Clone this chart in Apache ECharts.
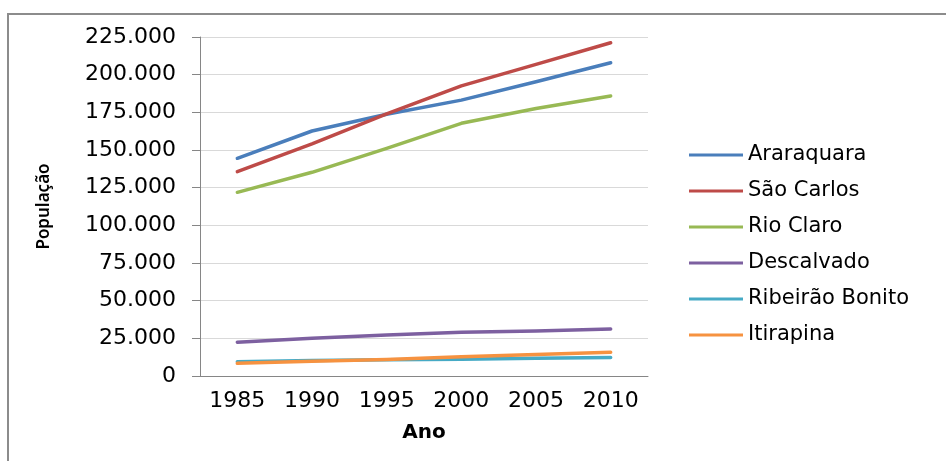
<!DOCTYPE html>
<html>
<head>
<meta charset="utf-8">
<script src="https://cdn.jsdelivr.net/npm/echarts@6/dist/echarts.min.js"></script>
<style>
  html, body { margin: 0; padding: 0; background: #fff; }
  #chart { width: 946px; height: 461px; }
</style>
</head>
<body>
<div id="chart"></div>
<script>
// Population of municipalities, 1985-2010
const years = ['1985', '1990', '1995', '2000', '2005', '2010'];
const araraquara = [144500, 162600, 173700, 183100, 195300, 207900];
const saoCarlos = [135600, 154000, 173900, 192600, 206800, 221200];
const rioClaro = [121900, 135200, 151100, 167700, 177600, 185800];
const descalvado = [22400, 25000, 27200, 29000, 29900, 31200];
const ribeiraoBonito = [9500, 10300, 10800, 11200, 11700, 12200];
const itirapina = [8400, 9800, 11000, 12800, 14300, 15700];

const seriesNames = ['Araraquara', 'São Carlos', 'Rio Claro', 'Descalvado', 'Ribeirão Bonito', 'Itirapina'];
const seriesData = [araraquara, saoCarlos, rioClaro, descalvado, ribeiraoBonito, itirapina];
const colors = ['#4A7EBB', '#BE4B48', '#98B954', '#7D60A0', '#46AAC5', '#F69240'];

const FONT = 'DejaVu Sans';

function fmt(v) {
  return v.toString().replace(/\B(?=(\d{3})+(?!\d))/g, '.');
}

const chart = echarts.init(document.getElementById('chart'), null, { renderer: 'canvas' });

chart.setOption({
  animation: false,
  backgroundColor: '#fff',
  color: colors,
  graphic: [{
    type: 'rect',
    shape: { x: 8, y: 14, width: 960, height: 480 },
    style: { fill: 'none', stroke: '#8c8c8c', lineWidth: 2 },
    silent: true
  }],
  grid: { left: 200, top: 37, width: 448, height: 339, containLabel: false },
  legend: {
    orient: 'vertical',
    left: 684,
    top: 139,
    icon: 'rect',
    itemWidth: 54,
    itemHeight: 3,
    itemGap: 14,
    textStyle: { fontFamily: FONT, fontSize: 21, color: '#000', lineHeight: 22 },
    data: seriesNames
  },
  xAxis: {
    type: 'category',
    data: years,
    boundaryGap: true,
    name: 'Ano',
    nameLocation: 'middle',
    nameGap: 47,
    nameTextStyle: { fontFamily: FONT, fontSize: 20, fontWeight: 'bold', color: '#000' },
    axisLine: { lineStyle: { color: '#868686', width: 1 } },
    axisTick: { show: false },
    axisLabel: { fontFamily: FONT, fontSize: 22, color: '#000', margin: 14 },
    splitLine: { show: false }
  },
  yAxis: {
    type: 'value',
    min: 0,
    max: 225000,
    interval: 25000,
    name: 'População',
    nameLocation: 'middle',
    nameGap: 147,
    nameRotate: 90,
    nameTextStyle: { fontFamily: 'Noto Sans', fontSize: 17, fontWeight: 600, color: '#000' },
    axisLine: { show: true, lineStyle: { color: '#868686', width: 1 } },
    axisTick: { show: true, length: 8, lineStyle: { color: '#868686' } },
    axisLabel: { fontFamily: FONT, fontSize: 22, color: '#000', margin: 24, formatter: fmt },
    splitLine: { show: true, lineStyle: { color: '#d9d9d9', width: 1 } }
  },
  series: seriesNames.map((name, i) => ({
    name: name,
    type: 'line',
    data: seriesData[i],
    symbol: 'none',
    lineStyle: { width: 3.5, color: colors[i], cap: 'round', join: 'round' },
    itemStyle: { color: colors[i] },
    emphasis: { disabled: true }
  }))
});
</script>
</body>
</html>
